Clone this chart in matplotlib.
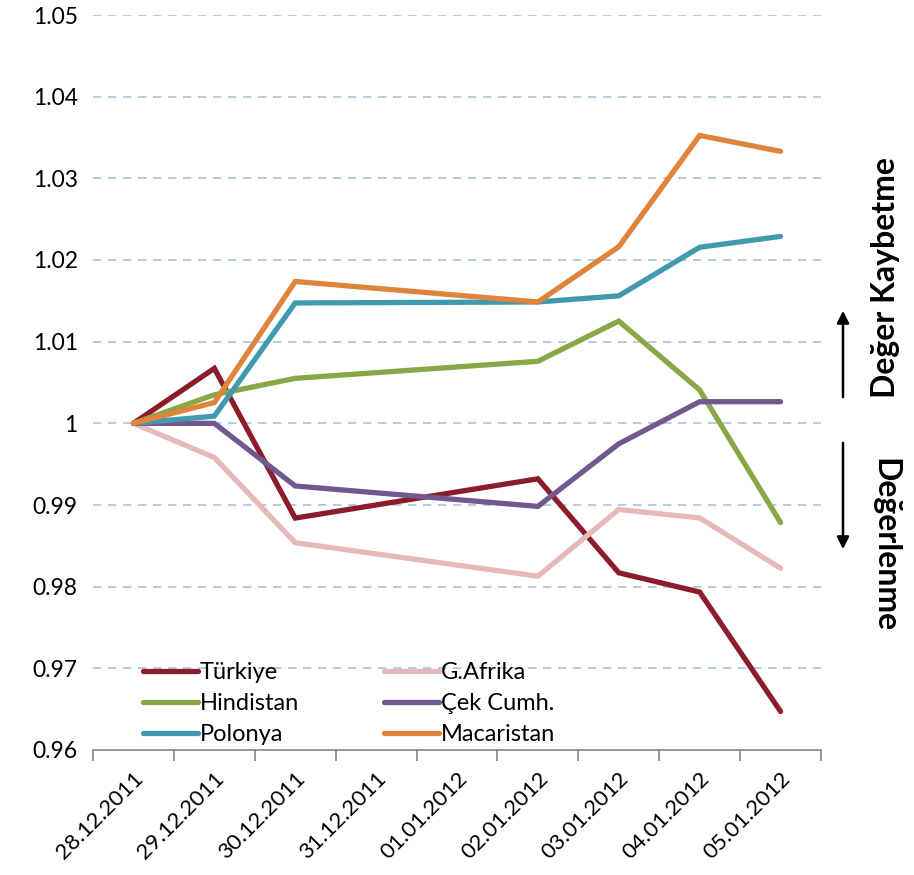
import numpy as np
import matplotlib
matplotlib.use("Agg")
import matplotlib.pyplot as plt
from matplotlib.patches import FancyArrowPatch

plt.rcParams['font.family'] = ['Lato', 'DejaVu Sans']

dates = ["28.12.2011", "29.12.2011", "30.12.2011", "31.12.2011", "01.01.2012",
         "02.01.2012", "03.01.2012", "04.01.2012", "05.01.2012"]

# Relative exchange-rate index (28.12.2011 = 1); weekend/holiday days have no quote
turkiye    = [1.0, 1.00673, 0.98840, None, None, 0.99321, 0.98170, 0.97934, 0.96472]
g_afrika   = [1.0, 0.99582, 0.98538, None, None, 0.98128, 0.98945, 0.98842, 0.98226]
hindistan  = [1.0, 1.00350, 1.00551, None, None, 1.00760, 1.01252, 1.00408, 0.98785]
cek_cumh   = [1.0, 1.00000, 0.99233, None, None, 0.98983, 0.99749, 1.00265, 1.00265]
polonya    = [1.0, 1.00088, 1.01474, None, None, 1.01486, 1.01561, 1.02156, 1.02289]
macaristan = [1.0, 1.00255, 1.01737, None, None, 1.01486, 1.02162, 1.03525, 1.03330]

series = [
    ("Türkiye", turkiye, "#8A1C2C"),
    ("G.Afrika", g_afrika, "#E6B9B8"),
    ("Hindistan", hindistan, "#88A747"),
    ("Çek Cumh.", cek_cumh, "#71588F"),
    ("Polonya", polonya, "#4199B0"),
    ("Macaristan", macaristan, "#DF843B"),
]

fig = plt.figure(figsize=(9.14, 8.75), dpi=100)
ax = fig.add_axes([93/914, 1-750/875, (821-93)/914, (750-15)/875])

x_all = np.arange(len(dates))
lines = {}
for name, vals, color in series:
    v = np.array([np.nan if a is None else a for a in vals], dtype=float)
    m = np.isfinite(v)
    ln, = ax.plot(x_all[m], v[m], color=color, lw=3.8, solid_capstyle='round',
                  solid_joinstyle='miter', label=name, zorder=3)
    lines[name] = ln

ax.set_xlim(-0.5, len(dates) - 0.5)
ax.set_ylim(0.96, 1.05)

yt = np.round(np.arange(0.96, 1.0501, 0.01), 2)
ax.set_yticks(yt)
ax.set_yticklabels(["1" if abs(t - 1) < 1e-9 else f"{t:.2f}" for t in yt])
for t in yt[1:]:
    ax.axhline(t, color="#A9C1DE", lw=1.2, ls=(0, (5, 4)), zorder=1)

ax.set_xticks(x_all)
ax.set_xticklabels(dates, rotation=45, ha='right', va='top', rotation_mode='anchor')
ax.set_xticks(np.arange(-0.5, len(dates)), minor=True)
ax.tick_params(axis='x', which='major', length=0, pad=13, labelsize=16)
ax.tick_params(axis='x', which='minor', length=8, width=1.2, color="#868686", direction='out')
ax.tick_params(axis='y', length=0, labelsize=16.5, pad=11)

for s in ['top', 'right', 'left']:
    ax.spines[s].set_visible(False)
ax.spines['bottom'].set_color("#868686")
ax.spines['bottom'].set_linewidth(1.2)

order = ["Türkiye", "Hindistan", "Polonya", "G.Afrika", "Çek Cumh.", "Macaristan"]
ax.legend([lines[n] for n in order], order, ncol=2, frameon=False,
          loc='lower left', bbox_to_anchor=(0.04, -0.022), fontsize=17,
          handlelength=2.3, handletextpad=0.1, columnspacing=3.6, labelspacing=0.42)

# Direction annotation on the right
fig.text(885/914, 1-278/875, "Değer Kaybetme", rotation=90, ha='center', va='center',
         fontsize=23, fontweight='bold')
fig.text(885/914, 1-545/875, "Değerlenme", rotation=-90, ha='center', va='center',
         fontsize=23, fontweight='bold')
fig.add_artist(FancyArrowPatch(
    (843/914, 1-400/875), (843/914, 1-308/875), transform=fig.transFigure,
    arrowstyle='-|>', mutation_scale=18, lw=1.8, color='black'))
fig.add_artist(FancyArrowPatch(
    (843/914, 1-440/875), (843/914, 1-552/875), transform=fig.transFigure,
    arrowstyle='-|>', mutation_scale=18, lw=1.8, color='black'))

fig.savefig("out.png", dpi=100)
